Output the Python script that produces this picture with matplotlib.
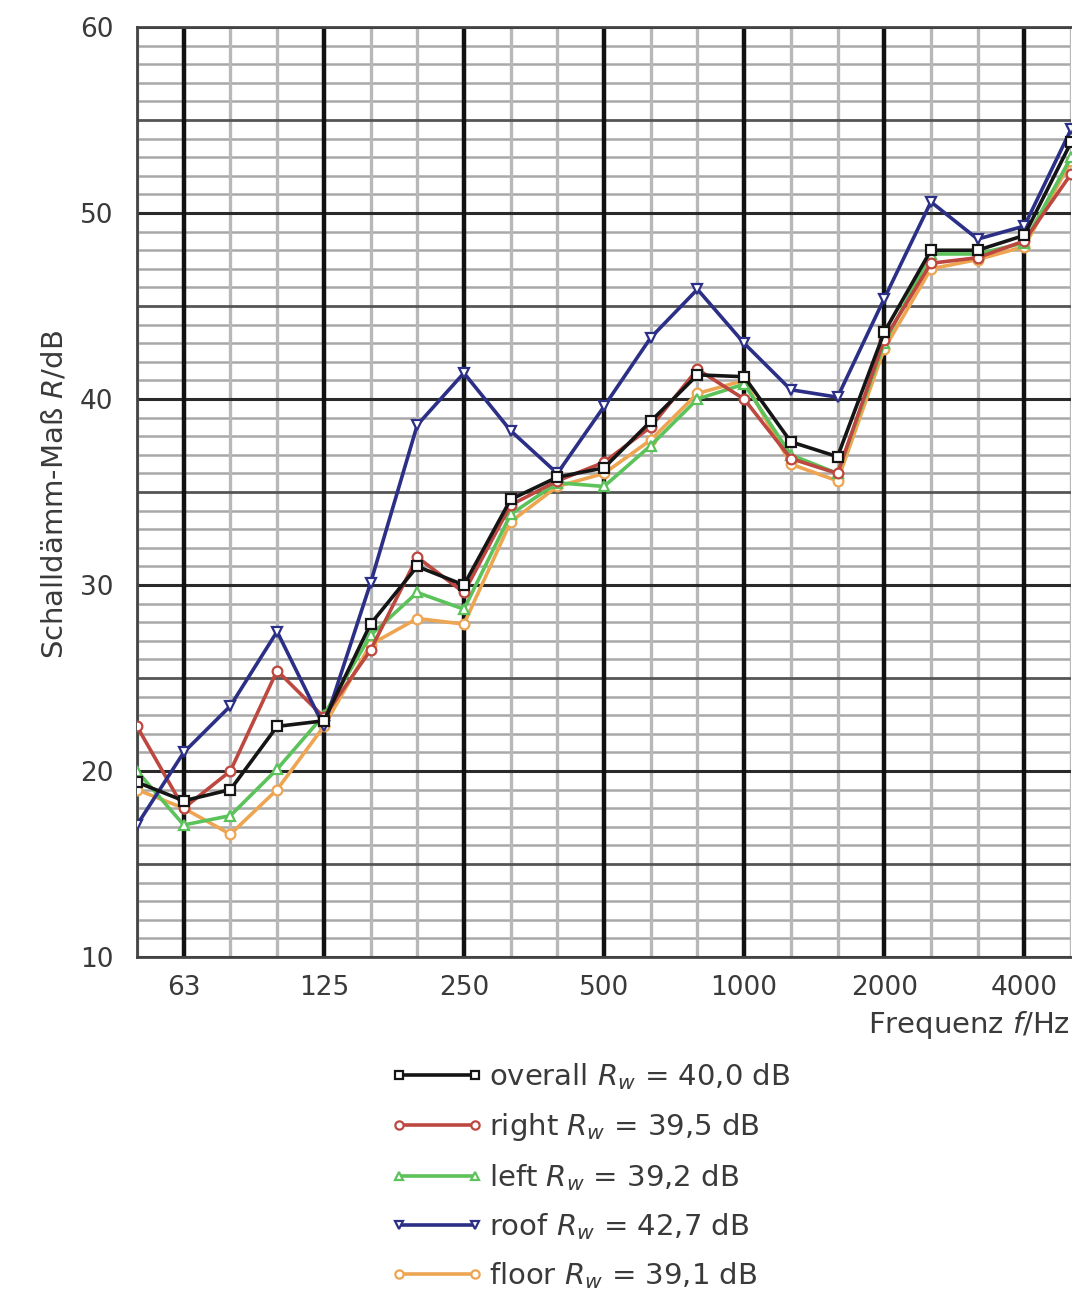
import matplotlib.pyplot as plt
import numpy as np

plt.rcParams['font.family'] = ['DejaVu Sans']

# third-octave bands
freqs = [50, 63, 80, 100, 125, 160, 200, 250, 315, 400, 500, 630, 800,
         1000, 1250, 1600, 2000, 2500, 3150, 4000, 5000]
tick_freqs = [63, 125, 250, 500, 1000, 2000, 4000]

overall = [19.4, 18.4, 19.0, 22.4, 22.7, 27.9, 31.0, 30.0, 34.6, 35.8, 36.3,
           38.8, 41.3, 41.2, 37.7, 36.9, 43.6, 48.0, 48.0, 48.8, 53.8]
right = [22.4, 18.0, 20.0, 25.4, 22.9, 26.5, 31.5, 29.6, 34.3, 35.6, 36.6,
         38.5, 41.6, 40.0, 36.8, 36.0, 43.2, 47.3, 47.6, 48.5, 52.1]
left = [20.0, 17.1, 17.6, 20.1, 23.0, 27.3, 29.6, 28.7, 33.8, 35.5, 35.3,
        37.5, 40.0, 40.8, 37.0, 36.0, 43.0, 47.8, 47.8, 48.4, 53.0]
roof = [17.1, 21.0, 23.5, 27.5, 22.4, 30.1, 38.6, 41.4, 38.3, 36.0, 39.6,
        43.3, 45.9, 43.0, 40.5, 40.1, 45.4, 50.6, 48.6, 49.3, 54.5]
floor = [19.0, 18.0, 16.6, 19.0, 22.4, 26.8, 28.2, 27.9, 33.4, 35.3, 36.0,
         37.8, 40.3, 41.0, 36.5, 35.6, 42.7, 47.0, 47.5, 48.2, 52.8]

series = [
    ('overall', '40,0', overall, '#151515', 's', 6),
    ('right', '39,5', right, '#bd4840', 'o', 4),
    ('left', '39,2', left, '#5cc25a', '^', 3),
    ('roof', '42,7', roof, '#2c2f86', 'v', 5),
    ('floor', '39,1', floor, '#eda552', 'o', 2),
]

fig = plt.figure(figsize=(10.72, 13.01), dpi=100)
ax = fig.add_axes([0.1278, 0.2644, 0.8713, 0.7148])

x = np.arange(len(freqs))

# grid: 1 dB thin, 5 dB medium, 10 dB heavy
for v in range(10, 61):
    if v % 10 == 0:
        ax.axhline(v, color='#2a2a2a', lw=2.2, zorder=1)
    elif v % 5 == 0:
        ax.axhline(v, color='#555555', lw=2.0, zorder=0.9)
    else:
        ax.axhline(v, color='#a8a8a8', lw=1.8, zorder=0.8)
for i, f in enumerate(freqs):
    if f in tick_freqs:
        ax.axvline(i, color='#111111', lw=3.2, zorder=1.1)
    else:
        ax.axvline(i, color='#b8b8b8', lw=2.4, zorder=0.85)

for name, rw, vals, col, mk, z in series:
    ax.plot(x, vals, color=col, lw=2.6, marker=mk, markersize=7,
            markerfacecolor='white', markeredgecolor=col, markeredgewidth=1.6,
            zorder=z + 2, label=name + r' $R_w$ = ' + rw + ' dB')

ax.set_xlim(0, len(freqs) - 1)
ax.set_ylim(10, 60)
ax.set_yticks(range(10, 61, 10))
ax.set_xticks([freqs.index(f) for f in tick_freqs])
ax.set_xticklabels([str(f) for f in tick_freqs])
ax.tick_params(length=0, labelsize=19, colors='#3a3a3a', pad=13)
ax.tick_params(axis='y', pad=17)
for s in ax.spines.values():
    s.set_color('#444444')
    s.set_linewidth(2)
ax.spines['right'].set_visible(False)

fig.text(0.051, 0.620, r'Schalldämm-Maß $R$/dB', rotation=90, fontsize=21,
         color='#3a3a3a', ha='center', va='center')
fig.text(0.998, 0.212, r'Frequenz $f$/Hz', fontsize=21, color='#3a3a3a',
         ha='right', va='center')

fig.legend(loc='upper left', bbox_to_anchor=(0.364, 0.184), frameon=False,
           fontsize=21, handlelength=3.2, handletextpad=0.2, numpoints=2,
           labelspacing=0.64, borderpad=0, borderaxespad=0,
           labelcolor='#3a3a3a', markerscale=0.85)

fig.savefig('out.png', dpi=100)
